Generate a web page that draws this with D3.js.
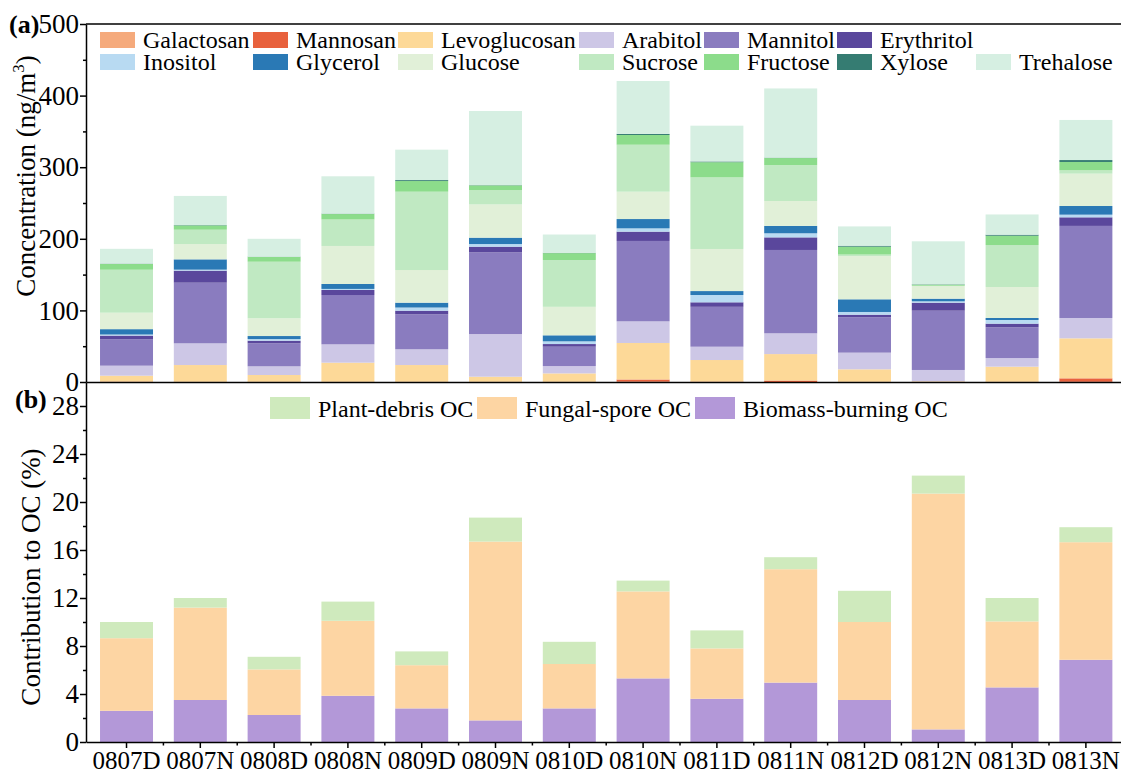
<!DOCTYPE html>
<html>
<head>
<meta charset="utf-8">
<script src="https://cdn.jsdelivr.net/npm/d3@7"></script>
<style>
  body { margin: 0; background: #fff; }
  svg { display: block; }
  svg text { font-family: 'Liberation Serif', 'DejaVu Serif', serif; }
</style>
</head>
<body>
<div class="canva"></div>
<script>
const FONT = "'Liberation Serif', 'DejaVu Serif', serif";

// sample names (date + Day/Night)
const samples = ['0807D','0807N','0808D','0808N','0809D','0809N','0810D','0810N','0811D','0811N','0812D','0812N','0813D','0813N'];

// (a) species concentrations, ng/m3
const galactosan   = [0, 0, 0, 0, 0, 0, 0, 0.5, 0, 0, 0, 0, 0, 0.3];
const mannosan     = [0.5, 0.3, 0.3, 0.3, 0.3, 0.3, 0.3, 3, 0.5, 2, 0.3, 0.2, 0.3, 4.8];
const levoglucosan = [8.3, 23.4, 9.5, 26.7, 23.4, 7.1, 11.7, 51, 30.2, 37, 17.4, 0.8, 21.1, 55.9];
const arabitol     = [14, 30.3, 12.1, 25.6, 22, 59.6, 10.3, 30.2, 18.6, 29, 23.3, 15.8, 12.1, 28.4];
const mannitol     = [37, 84.7, 32.1, 68.9, 48.8, 114, 27, 112.3, 55.7, 116.4, 49.3, 82.8, 42.9, 128.6];
const erythritol   = [5, 16.8, 3.7, 7, 5.1, 8, 3.7, 13, 6.3, 17.6, 3.7, 11.2, 5.1, 12];
const inositol     = [1.5, 1.4, 2.3, 1.5, 4.4, 3.7, 3.8, 4.6, 10.2, 5.7, 3.8, 1.9, 5.1, 3.7];
const glycerol     = [7.5, 14.4, 4.2, 6.9, 6.8, 8.9, 8.4, 13, 5.5, 10.3, 17.7, 3.7, 2.8, 12.1];
const glucose      = [23, 21.4, 24.8, 53.1, 45.6, 46.4, 39.8, 38.2, 58.8, 34.8, 60.5, 17.6, 43.3, 45.2];
const sucrose      = [60, 20, 79, 37, 109.4, 20, 65.4, 65.6, 100, 50.2, 2, 0.5, 58.6, 4.7];
const fructose     = [8, 6, 6.6, 7.6, 14.9, 6.6, 9.6, 13.6, 21.2, 9.8, 11, 1.5, 13, 11.6];
const xylose       = [0.5, 0.5, 0.4, 0.5, 1.3, 0.4, 0.4, 1.5, 1, 0.5, 1.3, 0.5, 1.4, 2.7];
const trehalose    = [20.7, 40.7, 25, 52.2, 42.5, 103.5, 25.6, 73.9, 50, 96.7, 27, 60, 28.3, 56];

const speciesNames  = ['Galactosan','Mannosan','Levoglucosan','Arabitol','Mannitol','Erythritol',
                       'Inositol','Glycerol','Glucose','Sucrose','Fructose','Xylose','Trehalose'];
const speciesValues = [galactosan, mannosan, levoglucosan, arabitol, mannitol, erythritol,
                       inositol, glycerol, glucose, sucrose, fructose, xylose, trehalose];
const speciesColors = ['#f5aa7c','#e8613d','#fdd998','#cdc7e6','#8a7cbf','#5a479c',
                       '#b8daf2','#2a79b5','#e1f0d8','#c0e9c2','#8cdc8b','#357c72','#d6efe2'];

// (b) contribution to OC, %
const biomassOC = [2.6, 3.5, 2.25, 3.85, 2.8, 1.8, 2.8, 5.3, 3.6, 4.95, 3.5, 1.05, 4.55, 6.85];
const fungalOC  = [6.05, 7.7, 3.8, 6.25, 3.6, 14.9, 3.7, 7.25, 4.2, 9.45, 6.5, 19.65, 5.5, 9.8];
const plantOC   = [1.35, 0.8, 1.05, 1.6, 1.15, 2.0, 1.85, 0.9, 1.5, 1.0, 2.6, 1.5, 1.95, 1.25];
const ocNames   = ['Biomass-burning OC','Fungal-spore OC','Plant-debris OC'];
const ocValues  = [biomassOC, fungalOC, plantOC];
const ocColors  = ['#b398d8','#fdd5a3','#cfeabd'];

// tick values
const concTicks = [0, 100, 200, 300, 400, 500];
const ocTicks   = [0, 4, 8, 12, 16, 20, 24, 28];

const W = 1121, H = 773;
const svg = d3.select(".canva").append("svg")
              .attr("width", W)
              .attr("height", H)
              .attr("font-family", FONT);

// build table rows for d3.stack
const rowsA = samples.map((s, i) => {
  const r = { sample: s };
  speciesNames.forEach((k, j) => r[k] = speciesValues[j][i]);
  return r;
});
const rowsB = samples.map((s, i) => {
  const r = { sample: s };
  ocNames.forEach((k, j) => r[k] = ocValues[j][i]);
  return r;
});

// scales
const x = d3.scaleBand().domain(samples)
            .range([86, 1126.4])
            .paddingInner(0.282)
            .paddingOuter(0.19);
const yA = d3.scaleLinear().domain([0, 500]).range([382, 24]);
const yB = d3.scaleLinear().domain([0, 30]).range([742, 382]);

const colorA = d3.scaleOrdinal().domain(speciesNames).range(speciesColors);
const colorB = d3.scaleOrdinal().domain(ocNames).range(ocColors);

// (a) stacked bars
const stackA = d3.stack().keys(speciesNames)(rowsA);
svg.append("g").selectAll("g")
   .data(stackA)
   .enter().append("g")
   .attr("fill", d => colorA(d.key))
   .selectAll("rect")
   .data(d => d)
   .enter().append("rect")
   .attr("x", d => x(d.data.sample))
   .attr("width", x.bandwidth())
   .attr("y", d => yA(d[1]))
   .attr("height", d => yA(d[0]) - yA(d[1]));

// (b) stacked bars
const stackB = d3.stack().keys(ocNames)(rowsB);
svg.append("g").selectAll("g")
   .data(stackB)
   .enter().append("g")
   .attr("fill", d => colorB(d.key))
   .selectAll("rect")
   .data(d => d)
   .enter().append("rect")
   .attr("x", d => x(d.data.sample))
   .attr("width", x.bandwidth())
   .attr("y", d => yB(d[1]))
   .attr("height", d => yB(d[0]) - yB(d[1]));

// axes styling helper
function styleAxis(g, fontSize) {
  g.attr("font-family", FONT);
  g.selectAll("path, line").attr("stroke", "#000").attr("stroke-width", 1.5);
  g.selectAll("text").attr("fill", "#000")
   .attr("font-size", fontSize)
   .attr("font-family", FONT);
}

// (a) left axis
const axA = svg.append("g").attr("transform", "translate(86,0)")
   .call(d3.axisLeft(yA).tickValues(concTicks).tickSize(6).tickSizeOuter(0).tickPadding(1));
styleAxis(axA, 27);
const axAm = svg.append("g").attr("transform", "translate(86,0)")
   .call(d3.axisLeft(yA).tickValues(d3.range(50, 500, 100)).tickSize(3).tickFormat(""));
styleAxis(axAm, 27);
axAm.select(".domain").remove();

// (a) top frame and shared middle line
svg.append("line")
   .attr("x1", 86).attr("x2", W)
   .attr("y1", yA(500)).attr("y2", yA(500))
   .attr("stroke", "#000").attr("stroke-width", 1.5);
const axMid = svg.append("g").attr("transform", `translate(0,${yA(0)})`)
   .call(d3.axisBottom(x).tickValues([]).tickSizeOuter(0));
styleAxis(axMid, 25);

// (b) left axis
const axB = svg.append("g").attr("transform", "translate(86,0)")
   .call(d3.axisLeft(yB).tickValues(ocTicks).tickSize(6).tickSizeOuter(0).tickPadding(1));
styleAxis(axB, 27);
const axBm = svg.append("g").attr("transform", "translate(86,0)")
   .call(d3.axisLeft(yB).tickValues(d3.range(2, 30, 4)).tickSize(3).tickFormat(""));
styleAxis(axBm, 27);
axBm.select(".domain").remove();

// (b) bottom axis
const axX = svg.append("g").attr("transform", `translate(0,${yB(0)})`)
   .call(d3.axisBottom(x).tickSize(6).tickSizeOuter(0).tickPadding(3));
styleAxis(axX, 25);
// minor ticks between bars
svg.append("g").selectAll("line")
   .data(samples.slice(0, -1))
   .enter().append("line")
   .attr("x1", d => x(d) + x.bandwidth() / 2 + x.step() / 2)
   .attr("x2", d => x(d) + x.bandwidth() / 2 + x.step() / 2)
   .attr("y1", yB(0)).attr("y2", yB(0) + 3.5)
   .attr("stroke", "#000").attr("stroke-width", 1.5);

// axis titles
const titleA = svg.append("text")
   .attr("transform", "translate(35,176) rotate(-90)")
   .attr("text-anchor", "middle")
   .attr("font-family", FONT)
   .attr("font-size", 27);
titleA.append("tspan").text("Concentration (ng/m");
titleA.append("tspan").text("3").attr("font-size", 17).attr("dy", -11);
titleA.append("tspan").text(")").attr("dy", 11);

svg.append("text")
   .attr("transform", "translate(40,577) rotate(-90)")
   .attr("text-anchor", "middle")
   .attr("font-family", FONT)
   .attr("font-size", 27)
   .text("Contribution to OC (%)");

// panel letters
svg.append("text").attr("x", 9).attr("y", 33)
   .attr("font-family", FONT)
   .attr("font-size", 26).attr("font-weight", "bold").text("(a)");
svg.append("text").attr("x", 15).attr("y", 408)
   .attr("font-family", FONT)
   .attr("font-size", 26).attr("font-weight", "bold").text("(b)");

// (a) legend: 6 items in row 1, 7 in row 2
const colX = [100, 253, 398, 579, 704, 837, 976];
const legA = svg.append("g").selectAll("g")
   .data(speciesNames)
   .enter().append("g")
   .attr("transform", (d, i) => i < 6
        ? `translate(${colX[i]},32)`
        : `translate(${colX[i - 6]},54)`);
legA.append("rect")
   .attr("width", 35).attr("height", 16)
   .attr("fill", d => colorA(d));
legA.append("text")
   .attr("x", 43).attr("y", 15.5)
   .attr("font-family", FONT)
   .attr("font-size", 24)
   .text(d => d);

// (b) legend
const legBOrder = ['Plant-debris OC','Fungal-spore OC','Biomass-burning OC'];
const legBX = [270, 477, 695];
const legB = svg.append("g").selectAll("g")
   .data(legBOrder)
   .enter().append("g")
   .attr("transform", (d, i) => `translate(${legBX[i]},397)`);
legB.append("rect")
   .attr("width", 40).attr("height", 22)
   .attr("fill", d => colorB(d));
legB.append("text")
   .attr("x", 48).attr("y", 19.5)
   .attr("font-family", FONT)
   .attr("font-size", 24)
   .text(d => d);
</script>
</body>
</html>
